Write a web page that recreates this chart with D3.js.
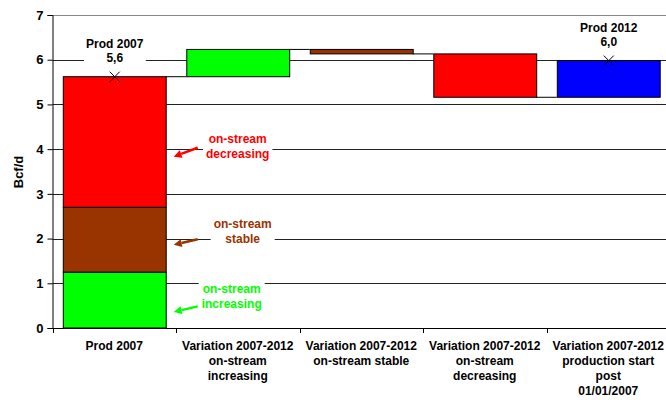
<!DOCTYPE html>
<html>
<head>
<meta charset="utf-8">
<script src="https://cdn.jsdelivr.net/npm/d3@7"></script>
<style>
  html, body { margin: 0; padding: 0; background: #fff; }
  svg { display: block; }
  text { font-family: Arial, "Liberation Sans", sans-serif; font-weight: bold; }
</style>
</head>
<body>
<svg id="chart" width="666" height="400"></svg>
<script>
// ---- data ----
const categories = ["Prod 2007", "Var inc", "Var stable", "Var dec", "Var new"];
const categoryLabels = [
  ["Prod 2007"],
  ["Variation 2007-2012", "on-stream", "increasing"],
  ["Variation 2007-2012", "on-stream stable"],
  ["Variation 2007-2012", "on-stream", "decreasing"],
  ["Variation 2007-2012", "production start", "post", "01/01/2007"]
];
// Prod 2007 split: on-stream increasing, stable, decreasing
const prod2007Parts = [1.25, 1.45, 2.92];
const partNames = ["on-stream increasing", "on-stream stable", "on-stream decreasing"];
// Variations 2007-2012
const variations = [0.61, -0.10, -0.97, 0.82];
const colors = ["#00FF00", "#993300", "#FF0000", "#0000FF"];
const yTicks = [0, 1, 2, 3, 4, 5, 6, 7];
const totalLabels = [{ cat: "Prod 2007", title: "Prod 2007", value: "5,6" },
                     { cat: "Var new", title: "Prod 2012", value: "6,0" }];
const annotations = [
  { lines: ["on-stream", "decreasing"], color: "#FF0000", part: 2 },
  { lines: ["on-stream", "stable"], color: "#993300", part: 1 },
  { lines: ["on-stream", "increasing"], color: "#00FF00", part: 0 }
];

// ---- layout ----
const svg = d3.select("#chart");
const mLeft = 52.5, mRight = 670, mTop = 15, mBottom = 328;
const x = d3.scaleBand().domain(categories).range([mLeft, mRight]).paddingInner(1/6).paddingOuter(1/12);
const y = d3.scaleLinear().domain([0, 7]).range([mBottom, mTop]);
const font = 'Arial, "Liberation Sans", sans-serif';

// gridlines
svg.append("g").selectAll("line").data(yTicks.filter(d => d > 0)).join("line")
  .attr("x1", mLeft).attr("x2", mRight)
  .attr("y1", d => Math.round(y(d)) + 0.5).attr("y2", d => Math.round(y(d)) + 0.5)
  .attr("stroke", d => d === 7 ? "#888" : "#222").attr("stroke-width", 1);

// y axis
const yAxis = d3.axisLeft(y).tickValues(yTicks).tickSize(5).tickPadding(4).tickFormat(d3.format("d"));
const gy = svg.append("g").attr("transform", `translate(${mLeft},0)`).call(yAxis);
gy.select(".domain").attr("stroke", "#000");
gy.selectAll(".tick line").attr("stroke", "#000");
gy.selectAll(".tick text").attr("font-size", 13).attr("font-family", font).attr("font-weight", "bold").attr("fill", "#000");

// x axis line & ticks at band boundaries
svg.append("line").attr("x1", mLeft).attr("x2", mRight).attr("y1", mBottom + 0.5).attr("y2", mBottom + 0.5).attr("stroke", "#000");
const step = x.step();
const boundaries = d3.range(categories.length + 1).map(i => mLeft + i * step);
svg.append("g").selectAll("line").data(boundaries).join("line")
  .attr("x1", d => Math.round(d) + 0.5).attr("x2", d => Math.round(d) + 0.5)
  .attr("y1", mBottom).attr("y2", mBottom + 5).attr("stroke", "#000");

// x labels
const xl = svg.append("g");
categories.forEach((c, i) => {
  const t = xl.append("text").attr("text-anchor", "middle").attr("font-size", 12).attr("fill", "#000")
    .attr("x", x(c) + x.bandwidth() / 2).attr("y", 349.5);
  categoryLabels[i].forEach((ln, j) => {
    t.append("tspan").attr("x", x(c) + x.bandwidth() / 2).attr("dy", j === 0 ? 0 : 15.3).text(ln);
  });
});

// y title
svg.append("text").attr("transform", `translate(23,172) rotate(-90)`).attr("text-anchor", "middle")
  .attr("font-size", 13).attr("fill", "#000").text("Bcf/d");

// ---- bars ----
let acc = 0;
const stacked = prod2007Parts.map((v, i) => { const s = { y0: acc, y1: acc + v, color: colors[i] }; acc += v; return s; });
const prod2007 = acc;
svg.append("g").selectAll("rect").data(stacked).join("rect")
  .attr("x", x("Prod 2007") + 0.5).attr("width", x.bandwidth())
  .attr("y", d => y(d.y1)).attr("height", d => y(d.y0) - y(d.y1))
  .attr("fill", d => d.color).attr("stroke", "#000").attr("stroke-width", 1);

let level = prod2007;
const wf = variations.map((v, i) => {
  const s = { cat: categories[i + 1], start: level, end: level + v, color: colors[i] };
  level += v; return s;
});
const prod2012 = level;

const conns = [{ from: "Prod 2007", to: wf[0].cat, v: prod2007 }]
  .concat(wf.slice(0, -1).map((d, i) => ({ from: d.cat, to: wf[i + 1].cat, v: d.end })));
svg.append("g").selectAll("line").data(conns).join("line")
  .attr("x1", d => x(d.from) + x.bandwidth()).attr("x2", d => x(d.to))
  .attr("y1", d => y(d.v)).attr("y2", d => y(d.v)).attr("stroke", "#000").attr("stroke-width", 1);

svg.append("g").selectAll("rect").data(wf).join("rect")
  .attr("x", d => x(d.cat) + 0.5).attr("width", x.bandwidth())
  .attr("y", d => y(Math.max(d.start, d.end))).attr("height", d => Math.abs(y(d.start) - y(d.end)))
  .attr("fill", d => d.color).attr("stroke", "#000").attr("stroke-width", 1);

// ---- total labels & X markers ----
const totals = [prod2007, prod2012];
totalLabels.forEach((L, i) => {
  const cx = x(L.cat) + x.bandwidth() / 2 + 0.5;
  const cy = y(totals[i]);
  const g = svg.append("g");
  const t = g.append("text").attr("text-anchor", "middle").attr("font-size", 12).attr("fill", "#000");
  t.append("tspan").attr("x", cx).attr("y", cy - 29).text(L.title);
  t.append("tspan").attr("x", cx).attr("y", cy - 15).text(L.value);
  const bb = t.node().getBBox();
  g.insert("rect", "text").attr("x", bb.x - 2).attr("y", bb.y).attr("width", bb.width + 4).attr("height", bb.height).attr("fill", "#fff");
  const s = 5;
  svg.append("path").attr("d", `M${cx - s},${cy - s}L${cx + s},${cy + s}M${cx - s},${cy + s}L${cx + s},${cy - s}`)
    .attr("stroke", "#000").attr("stroke-width", 1).attr("fill", "none");
});

// ---- annotations ----
const barRight = x("Prod 2007") + x.bandwidth();
const annY = [3.83, 1.86, 0.36]; // arrow tip values (Bcf/d)
const textDx = [72, 77, 66];
const textDyTop = [-14, -17, -19];
annotations.forEach((a, i) => {
  const tipX = barRight + 8, tipY = y(annY[i]);
  const tailX = tipX + 24, tailY = tipY - (i === 0 ? 9 : 5.5);
  const g = svg.append("g");
  const t = g.append("text").attr("text-anchor", "middle").attr("font-size", 12).attr("fill", a.color);
  a.lines.forEach((ln, j) => {
    t.append("tspan").attr("x", barRight + textDx[i]).attr("y", tipY + textDyTop[i] + j * 15.3).text(ln);
  });
  const bb = t.node().getBBox();
  g.insert("rect", "text").attr("x", bb.x - 3).attr("y", bb.y).attr("width", bb.width + 6).attr("height", bb.height).attr("fill", "#fff");
  const ang = Math.atan2(tipY - tailY, tipX - tailX);
  const hl = 8, hw = 4;
  const bx = tipX - hl * Math.cos(ang), by = tipY - hl * Math.sin(ang);
  svg.append("line").attr("x1", tailX).attr("y1", tailY).attr("x2", bx).attr("y2", by)
    .attr("stroke", a.color).attr("stroke-width", 2.5);
  const px = -Math.sin(ang) * hw, py = Math.cos(ang) * hw;
  svg.append("path").attr("d", `M${tipX},${tipY}L${bx + px},${by + py}L${bx - px},${by - py}Z`).attr("fill", a.color);
});
</script>
</body>
</html>
